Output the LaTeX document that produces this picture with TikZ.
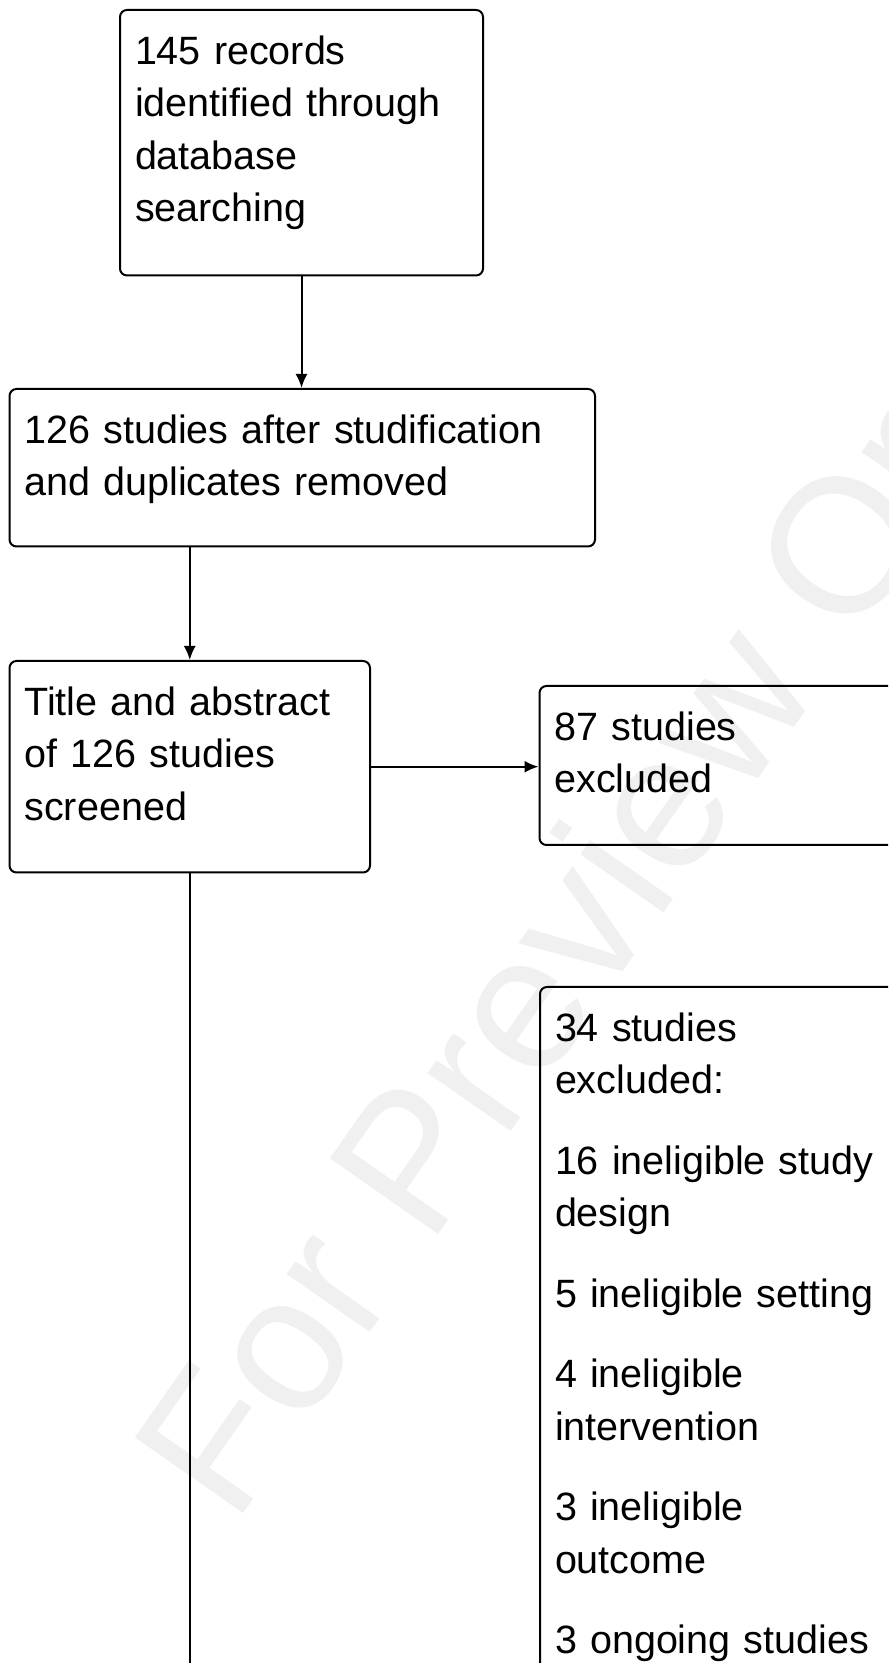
\documentclass[tikz,border=0pt]{standalone}
\usepackage{fontspec}
\setmainfont{Liberation Sans}
\usepackage{tikz}
\usetikzlibrary{arrows.meta}

\begin{document}
\begin{tikzpicture}[x=0.5pt,y=0.5pt,>={Latex[length=7pt,width=6pt]},line join=bevel,
  flowbox/.style={draw,line width=1pt,rounded corners=3.5pt,anchor=north west,align=left,
    inner xsep=7.5pt,inner ysep=0pt,text height=27.25pt,
    font=\fontsize{19.75pt}{26.25pt}\selectfont}]
%%
\definecolor{wmcolor}{rgb}{0.94,0.94,0.94};
  \path[use as bounding box] (0,0) rectangle (888,1663);
  \clip (0,0) rectangle (888,1663);
  \node (watermark) at (234,136) [anchor=base west,rotate=55,inner sep=0pt,text=wmcolor,font=\fontsize{96pt}{96pt}\selectfont] {For Preview Only};
  \node (records) at (119,1654) [flowbox,text width=166.5pt,text depth=105.5pt] {145 records\\identified through\\database\\searching};
  \node (dedup) at (8.5,1275) [flowbox,text width=277.75pt,text depth=51.5pt] {126 studies after studification\\and duplicates removed};
  \node (screened) at (8.5,1003) [flowbox,text width=165.25pt,text depth=78.5pt] {Title and abstract\\of 126 studies\\screened};
  \node (excl_abs) at (538.5,978) [flowbox,text width=165pt,text depth=52.25pt] {87 studies\\excluded};
  \node (excl_full) at (539,677) [flowbox,text width=165pt,text depth=400pt] {34 studies\\excluded:\\[14pt]16 ineligible study\\design\\[14pt]5 ineligible setting\\[14pt]4 ineligible\\intervention\\[14pt]3 ineligible\\outcome\\[14pt]3 ongoing studies};
  \coordinate (line_end) at (screened.south |- 0,-20);
  \draw [->,line width=1pt] (records.south) -- (records.south |- dedup.north);
  \draw [->,line width=1pt] (screened.north |- dedup.south) -- (screened.north);
  \draw [->,line width=1pt] (screened.east) -- (screened.east -| excl_abs.west);
  \draw [line width=1pt] (screened.south) -- (line_end);
%
\end{tikzpicture}
\end{document}
